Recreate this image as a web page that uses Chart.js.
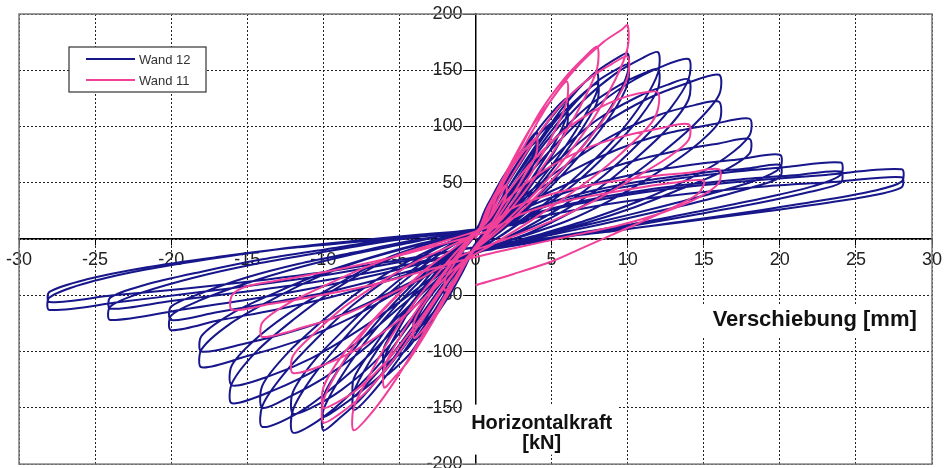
<!DOCTYPE html>
<html><head><meta charset="utf-8">
<script src="https://cdn.jsdelivr.net/npm/chart.js@4.4.1/dist/chart.umd.min.js"></script>
<style>html,body{margin:0;padding:0;background:#fff;}#wrap{width:948px;height:468px;}</style>
</head><body><div id="wrap"><canvas id="c" width="948" height="468"></canvas></div>
<script>
const seriesLabels = ['Wand 12', 'Wand 11'];
const xAxisTitle = 'Verschiebung [mm]';
const yAxisTitle = ['Horizontalkraft', '[kN]'];
const xRange = [-30, 30];
const yRange = [-200, 200];

// Wand 12: [displacement mm, force kN], read cycle by cycle
const wand12Points = [
[0,0],
[0.5,22],[1.2,40],[2,55],[2,45],[1.5,30],[0.8,12],[0,-5],[-0.6,-22],[-1.3,-38],[-2,-50],[-2,-40],[-1.5,-26],[-0.8,-10],[0,4],
[0.6,24],[1.3,40],[2,50],[2,40],[1.4,25],[0.6,8],[-0.2,-8],[-0.8,-24],[-1.4,-36],[-2,-46],[-2,-36],[-1.3,-22],[-0.6,-6],[0,6],
[0.8,30],[1.8,55],[3,78],[4,95],[4,82],[3.3,62],[2.2,38],[1,12],[0,-6],[-0.8,-28],[-1.8,-52],[-3,-75],[-4,-90],[-4,-76],[-3.2,-55],[-2,-30],[-1,-8],[0,8],
[1,30],[2,52],[3,72],[4,86],[4,72],[3.2,52],[2,28],[0.8,4],[-0.2,-12],[-1.2,-34],[-2.2,-55],[-3.2,-72],[-4,-82],[-4,-68],[-3,-48],[-1.8,-24],[-0.8,-4],[0.2,10],
[1.2,32],[2.5,62],[4,95],[5.2,115],[6,125],[6,110],[5.3,88],[4,60],[2.5,30],[1,5],[-0.3,-14],[-1.5,-40],[-2.8,-70],[-4.2,-100],[-5.3,-115],[-6,-122],[-6,-106],[-5.2,-84],[-4,-56],[-2.5,-28],[-1,-4],[0.3,12],
[1.4,34],[2.8,64],[4.2,93],[5.3,107],[6,115],[6,100],[5.2,78],[3.8,50],[2.2,22],[0.8,0],[-0.6,-18],[-1.8,-44],[-3.2,-74],[-4.5,-98],[-5.4,-106],[-6,-112],[-6,-96],[-5,-74],[-3.6,-46],[-2,-20],[-0.6,0],[0.6,14],
[1.5,36],[3,70],[4.8,105],[6.4,130],[7.5,143],[8,148],[8,132],[7.2,110],[5.8,80],[4,48],[2.2,20],[0.6,0],[-0.8,-20],[-2.2,-48],[-3.8,-82],[-5.5,-115],[-7,-140],[-8,-152],[-8,-136],[-7,-110],[-5.5,-80],[-3.8,-50],[-2,-22],[-0.5,-2],[0.8,14],
[1.8,38],[3.4,70],[5.2,104],[6.8,126],[8,138],[8,122],[7,98],[5.4,68],[3.6,38],[1.8,12],[0.2,-6],[-1.2,-26],[-2.8,-58],[-4.4,-90],[-6,-118],[-7.3,-133],[-8,-140],[-8,-124],[-6.8,-98],[-5.2,-68],[-3.4,-38],[-1.6,-12],[0,4],[1,16],
[2,42],[3.8,80],[5.8,118],[7.6,145],[9.2,160],[10,165],[10,148],[9.2,124],[7.6,92],[5.6,60],[3.5,30],[1.5,6],[0,-10],[-1.6,-32],[-3.4,-66],[-5.4,-106],[-7.4,-140],[-9,-160],[-10,-170],[-10,-152],[-9,-126],[-7.4,-94],[-5.4,-62],[-3.4,-34],[-1.5,-10],[0,6],[1.2,18],
[2.2,42],[4.2,82],[6.2,116],[8,140],[9.3,151],[10,155],[10,138],[9,112],[7.2,80],[5.2,50],[3.2,24],[1.2,2],[-0.4,-14],[-2,-38],[-3.8,-72],[-5.8,-108],[-7.8,-138],[-9.2,-152],[-10,-158],[-10,-140],[-8.8,-112],[-7,-82],[-5,-52],[-3,-26],[-1.2,-6],[0.2,8],[1.4,20],
[2.4,44],[4.6,86],[7,122],[9.2,147],[11,161],[12,166],[12,148],[11,122],[9.2,90],[7,60],[4.6,32],[2.2,8],[0.2,-10],[-1.8,-32],[-3.8,-66],[-6,-106],[-8.4,-140],[-10.4,-162],[-12,-172],[-12,-152],[-10.8,-124],[-9,-94],[-6.8,-62],[-4.4,-34],[-2,-10],[0,6],[1.4,18],
[2.6,44],[5,86],[7.4,118],[9.6,138],[11.2,148],[12,151],[12,134],[10.8,108],[8.8,78],[6.6,50],[4.2,26],[1.8,4],[-0.2,-12],[-2.2,-36],[-4.2,-70],[-6.4,-106],[-8.8,-134],[-10.8,-150],[-12,-155],[-12,-136],[-10.6,-108],[-8.6,-80],[-6.4,-52],[-4,-26],[-1.8,-6],[0.2,8],[1.6,20],
[2.6,42],[5,80],[7.6,114],[10,138],[12.2,153],[14,160],[14,142],[12.8,116],[10.8,86],[8.4,56],[5.8,30],[3,8],[0.6,-8],[-1.8,-28],[-4,-60],[-6.6,-98],[-9.2,-130],[-11.6,-154],[-14,-167],[-14,-148],[-12.6,-120],[-10.4,-88],[-8,-58],[-5.4,-32],[-2.8,-10],[-0.4,4],[1.6,16],
[2.8,40],[5.4,76],[8,106],[10.6,126],[12.6,137],[14,142],[14,124],[12.6,98],[10.4,70],[8,44],[5.4,22],[2.6,4],[0.2,-10],[-2,-30],[-4.4,-60],[-7,-94],[-9.8,-122],[-12.2,-140],[-14,-150],[-14,-130],[-12.4,-102],[-10,-72],[-7.6,-46],[-5,-24],[-2.4,-6],[0,6],[1.8,18],
[2.8,38],[5.6,72],[8.4,102],[11.2,124],[13.8,138],[16,146],[16,128],[14.4,102],[12,74],[9.4,48],[6.6,26],[3.6,6],[0.8,-8],[-1.8,-26],[-4.4,-54],[-7.2,-86],[-10.2,-114],[-13.2,-134],[-16,-146],[-16,-128],[-14.4,-100],[-12,-72],[-9.4,-46],[-6.6,-24],[-3.6,-6],[-0.6,6],[1.8,16],
[3,36],[6,66],[9,92],[12,110],[14.4,119],[16,122],[16,104],[14.2,80],[11.6,56],[8.8,34],[6,16],[3,2],[0.4,-10],[-2.2,-28],[-4.8,-54],[-7.8,-82],[-10.8,-106],[-13.6,-122],[-16,-130],[-16,-112],[-14.2,-86],[-11.6,-60],[-8.8,-38],[-6,-18],[-3,-4],[0,6],[2,16],
[3,34],[6.2,60],[9.4,80],[12.6,94],[15.6,102],[18,107],[18,92],[16.4,72],[13.8,52],[10.8,34],[7.6,18],[4.2,4],[1,-8],[-2,-24],[-5,-46],[-8.2,-70],[-11.6,-90],[-15,-104],[-18,-114],[-18,-98],[-16.2,-76],[-13.4,-54],[-10.4,-34],[-7.2,-18],[-4,-6],[-0.8,6],[2,14],
[3.2,30],[6.6,52],[10,68],[13.4,79],[16,85],[18,89],[18,76],[16.2,60],[13.4,44],[10.4,28],[7.2,14],[3.8,2],[0.6,-10],[-2.4,-26],[-5.4,-46],[-8.6,-66],[-12,-82],[-15.2,-93],[-18,-100],[-18,-86],[-16,-66],[-13.2,-48],[-10,-30],[-6.8,-16],[-3.6,-4],[-0.4,6],[2.2,14],
[3.4,28],[7,46],[10.6,58],[14.2,66],[17.4,71],[20,75],[20,63],[18.4,52],[15.4,40],[12,28],[8.4,16],[4.6,4],[1,-8],[-2.4,-22],[-6,-38],[-9.6,-52],[-13.2,-63],[-16.8,-72],[-20,-81],[-20,-68],[-18.2,-55],[-15.2,-40],[-11.8,-26],[-8.2,-14],[-4.6,-4],[-1,6],[2.4,14],
[3.6,26],[7.4,42],[11.2,52],[15,59],[18,63],[20,66],[20,55],[18.2,46],[15.2,35],[11.8,24],[8.2,13],[4.4,2],[0.8,-9],[-2.6,-22],[-6.4,-36],[-10,-48],[-13.6,-57],[-17,-65],[-20,-72],[-20,-60],[-18,-48],[-15,-34],[-11.6,-22],[-8,-12],[-4.4,-2],[-0.8,6],[2.6,14],
[4,26],[8.2,42],[12.4,52],[16.4,59],[20.4,64],[24,68],[24,57],[22.2,47],[18.8,36],[14.8,25],[10.6,14],[6.2,4],[1.8,-6],[-2.4,-18],[-6.6,-32],[-10.8,-44],[-15,-54],[-19.4,-63],[-24,-72],[-24,-60],[-22,-48],[-18.4,-34],[-14.4,-22],[-10.2,-12],[-5.8,-2],[-1.4,6],[2.6,14],
[4.2,24],[8.6,38],[13,47],[17.4,53],[21.2,57],[24,60],[24,50],[22,42],[18.6,32],[14.6,22],[10.4,12],[6,2],[1.6,-8],[-2.8,-18],[-7,-30],[-11.4,-40],[-15.8,-48],[-20,-55],[-24,-62],[-24,-52],[-21.8,-41],[-18,-29],[-14,-18],[-9.8,-9],[-5.4,0],[-1,7],[3,14],
[4.4,24],[9,37],[13.6,46],[18.2,52],[23,57],[28,62],[28,51],[26.2,43],[22.6,34],[18.4,25],[13.8,16],[9,7],[4.2,0],[-0.4,-8],[-4.8,-20],[-9.4,-31],[-14,-40],[-18.6,-48],[-23.4,-56],[-28,-63],[-28,-52],[-25.8,-40],[-22,-28],[-17.6,-18],[-13,-9],[-8.2,-2],[-3.6,4],[0.6,9],[3,16],
[5,22],[9.6,33],[14.4,41],[19.2,47],[23.8,51],[28,55],[28,46],[25.8,38],[22,30],[17.6,22],[13,14],[8.2,6],[3.6,-1],[-0.8,-9],[-5.2,-19],[-9.8,-29],[-14.4,-37],[-19,-44],[-23.8,-50],[-28,-56],[-28,-47],[-25.6,-36],[-21.6,-25],[-17,-16],[-12.2,-8],[-7.4,-2],[-3,4],[0,8]
];

// Wand 11: [displacement mm, force kN]
const wand11Points = [
[0,0],
[0.6,20],[1.3,36],[2,48],[2,38],[1.4,22],[0.6,4],[-0.2,-10],[-0.8,-24],[-1.4,-36],[-2,-46],[-2,-36],[-1.3,-20],[-0.5,-4],[0.2,8],
[0.8,28],[1.8,52],[3,75],[4,90],[4,76],[3.2,56],[2,30],[0.8,6],[-0.4,-16],[-1.4,-40],[-2.6,-66],[-4,-88],[-4,-72],[-3,-50],[-1.8,-26],[-0.6,-4],[0.4,12],
[1,32],[2.2,64],[3.6,98],[5,124],[6,140],[6,122],[5.2,96],[4,66],[2.6,36],[1,8],[-0.4,-16],[-1.6,-44],[-3,-78],[-4.4,-108],[-5.4,-124],[-6,-132],[-6,-114],[-5,-88],[-3.6,-58],[-2,-28],[-0.6,-4],[0.6,14],
[1.2,36],[2.6,72],[4.2,112],[5.8,142],[7.2,162],[8,171],[8,152],[7.2,126],[5.8,92],[4.2,60],[2.4,28],[0.8,4],[-0.6,-18],[-2,-50],[-3.6,-88],[-5.2,-124],[-6.8,-154],[-8,-170],[-8,-150],[-7,-122],[-5.6,-88],[-4,-56],[-2.2,-26],[-0.6,-2],[0.8,16],
[1.4,38],[3,78],[4.8,120],[6.6,152],[8.4,175],[9.6,186],[10,190],[10,170],[9.2,142],[7.8,108],[6,74],[4,42],[2,16],[0.2,-6],[-1.4,-30],[-3.2,-66],[-5.2,-104],[-7.2,-136],[-9,-156],[-10,-163],[-10,-144],[-9,-116],[-7.4,-84],[-5.4,-54],[-3.2,-26],[-1,-4],[0.8,16],
[1.6,38],[3.4,78],[5.4,116],[7.4,142],[9,156],[10,162],[10,144],[9,118],[7.4,88],[5.4,58],[3.4,30],[1.4,6],[-0.4,-14],[-2,-40],[-3.8,-74],[-5.8,-108],[-7.8,-134],[-9.2,-146],[-10,-150],[-10,-132],[-8.8,-104],[-7,-76],[-5,-48],[-2.8,-22],[-0.8,-2],[0.8,16],
[1.8,36],[3.8,70],[6,98],[8.2,117],[10,127],[11.4,131],[12,130],[12,116],[11.6,104],[10.2,84],[8.2,60],[6,38],[3.6,16],[1.2,-4],[-1,-22],[-3,-48],[-5.4,-76],[-7.8,-98],[-10,-112],[-12,-119],[-12,-104],[-10.6,-84],[-8.6,-60],[-6.2,-38],[-3.6,-18],[-1,-2],[1,14],
[2,34],[4.4,60],[7,79],[9.6,91],[12,98],[14,102],[14,88],[12.6,72],[10.4,54],[7.8,34],[5,16],[2,0],[-0.8,-14],[-3.2,-32],[-5.8,-50],[-8.4,-66],[-11.2,-78],[-14,-87],[-14,-74],[-12.4,-58],[-10,-42],[-7.4,-26],[-4.6,-12],[-1.6,0],[1,12],
[2.2,26],[5,40],[8,49],[11,55],[14,59],[16,62],[16,50],[14.8,38],[12.4,24],[9.4,12],[6,2],[2.6,-8],[-0.6,-18],[-3.8,-30],[-7.2,-42],[-10.6,-51],[-13.6,-58],[-16,-63],[-16,-50],[-15,-42],[-12.6,-36],[-9.4,-28],[-6,-18],[-2.6,-6],[0.6,6],
[3,22],[6,34],[10,44],[13,50],[15,52],[14.6,40],[12,22],[9,4],[7,-8],[5,-20],[2.5,-31],[0,-41]
];

const navy = '#17168a';
const pink = '#f0409a';

const overlay = {
  id: 'overlay',
  beforeDraw(chart) {
    const s = chart.scales.y;
    if (s && !s._labelShift) {
      const orig = s.drawLabels.bind(s);
      s.drawLabels = (ca) => {
        chart.ctx.save();
        chart.ctx.translate(-13, 0);
        orig(ca);
        chart.ctx.restore();
      };
      s._labelShift = true;
    }
  },
  beforeDatasetsDraw(chart) {
    const {ctx, chartArea: a} = chart;
    ctx.save();
    ctx.strokeStyle = '#7a7a7a';
    ctx.lineWidth = 1.5;
    ctx.strokeRect(a.left, a.top, a.right - a.left, a.bottom - a.top);
    ctx.restore();
  },
  afterDraw(chart) {
    const {ctx, chartArea: a, scales: {x, y}} = chart;
    ctx.save();
    // x-axis title
    ctx.font = 'bold 22px "Liberation Sans", Arial, sans-serif';
    const xw = ctx.measureText(xAxisTitle).width;
    const xr = x.getPixelForValue(29.0), xy = y.getPixelForValue(-72);
    ctx.fillStyle = '#fff';
    ctx.fillRect(xr - xw - 10, xy - 16, xw + 18, 32);
    ctx.fillStyle = '#111';
    ctx.textAlign = 'right'; ctx.textBaseline = 'middle';
    ctx.fillText(xAxisTitle, xr, xy);
    // y-axis title
    ctx.font = 'bold 20px "Liberation Sans", Arial, sans-serif';
    const cx = x.getPixelForValue(4.35);
    const ty = y.getPixelForValue(-164);
    ctx.fillStyle = '#fff';
    ctx.fillRect(cx - 79, ty - 19, 156, 50);
    ctx.fillStyle = '#111';
    ctx.textAlign = 'center';
    ctx.fillText(yAxisTitle[0], cx, ty);
    ctx.fillText(yAxisTitle[1], cx, ty + 20);
    // legend
    const lx = a.left + 50, ly = a.top + 33, lw = 137, lh = 45;
    ctx.fillStyle = '#fff';
    ctx.fillRect(lx, ly, lw, lh);
    ctx.strokeStyle = '#333'; ctx.lineWidth = 1.2;
    ctx.strokeRect(lx, ly, lw, lh);
    ctx.font = '13px "Liberation Sans", Arial, sans-serif';
    ctx.textAlign = 'left';
    chart.data.datasets.forEach((ds, i) => {
      const yy = ly + 12 + i * 21;
      ctx.strokeStyle = ds.borderColor; ctx.lineWidth = 2;
      ctx.beginPath(); ctx.moveTo(lx + 17, yy); ctx.lineTo(lx + 66, yy); ctx.stroke();
      ctx.fillStyle = '#333';
      ctx.fillText(ds.label, lx + 70, yy + 1);
    });
    ctx.restore();
  }
};

Chart.defaults.font.family = '"Liberation Sans", Arial, sans-serif';

new Chart(document.getElementById('c'), {
  type: 'scatter',
  data: {
    datasets: [
      { label: seriesLabels[0], data: wand12Points.map(([x, y]) => ({x, y})), borderColor: navy, backgroundColor: navy, showLine: true, pointRadius: 0, borderWidth: 2, tension: 0.3, order: 1 },
      { label: seriesLabels[1], data: wand11Points.map(([x, y]) => ({x, y})), borderColor: pink, backgroundColor: pink, showLine: true, pointRadius: 0, borderWidth: 2, tension: 0.3, order: 0 }
    ]
  },
  options: {
    responsive: false,
    animation: false,
    devicePixelRatio: 1,
    layout: { padding: { left: 19, top: 14, right: 16, bottom: -3 } },
    plugins: { legend: { display: false }, tooltip: { enabled: false } },
    scales: {
      x: {
        type: 'linear', min: xRange[0], max: xRange[1], position: { y: 0 },
        ticks: { stepSize: 5, color: '#222', font: { size: 18 }, padding: 4, maxRotation: 0 },
        grid: { color: '#222', lineWidth: 1, tickLength: 6, tickColor: '#000' },
        border: { display: true, color: '#000', width: 1.5, dash: [2, 2] }
      },
      y: {
        type: 'linear', min: yRange[0], max: yRange[1], position: { x: 0 },
        ticks: { stepSize: 50, color: '#222', font: { size: 18, lineHeight: 0.1 }, padding: 3 },
        grid: { color: '#222', lineWidth: 1, tickLength: 10, tickColor: '#000' },
        border: { display: true, color: '#000', width: 1.5, dash: [2, 2] }
      }
    }
  },
  plugins: [overlay]
});
</script>
</body></html>
